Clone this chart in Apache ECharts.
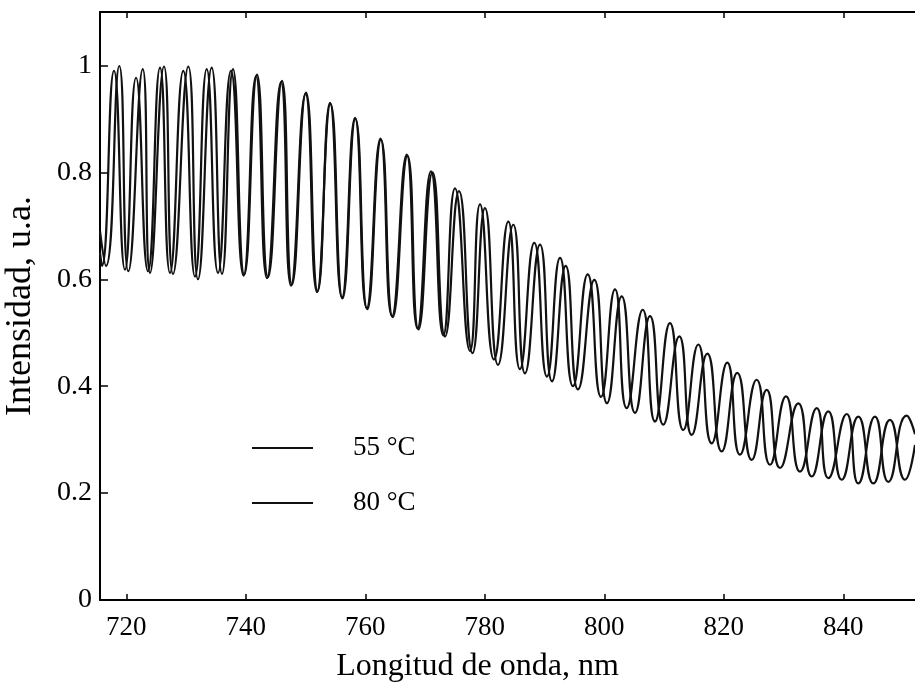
<!DOCTYPE html>
<html>
<head>
<meta charset="utf-8">
<script src="https://cdn.jsdelivr.net/npm/echarts@6/dist/echarts.min.js"></script>
<style>
html,body{margin:0;padding:0;background:#fff;}
#chart{width:915px;height:689px;}
</style>
</head>
<body>
<div id="chart"></div>
<script>
// Wavelength (nm) and intensity (a.u.) read at peaks/valleys of each trace
const wl55 = [715.60,716.60,718.83,720.34,722.75,723.97,726.31,727.82,730.38,732.00,734.29,736.02,737.86,739.75,741.88,743.72,746.06,747.73,750.08,752.03,754.09,756.10,758.28,760.24,762.54,764.47,766.93,768.74,770.99,773.06,775.01,777.52,779.20,781.54,783.93,785.89,788.28,790.41,792.59,794.76,797.22,799.45,801.79,803.75,806.43,808.48,810.99,813.22,815.73,817.97,820.58,822.71,825.50,827.73,830.41,832.75,835.55,837.49,840.57,842.51,845.30,847.53,850.60,852.00];
const int55 = [0.69,0.625,0.999,0.615,0.993,0.612,0.998,0.610,0.998,0.600,0.996,0.610,0.993,0.609,0.983,0.604,0.971,0.590,0.949,0.578,0.930,0.566,0.902,0.546,0.863,0.531,0.833,0.508,0.802,0.495,0.770,0.466,0.740,0.450,0.708,0.432,0.668,0.418,0.640,0.400,0.609,0.380,0.581,0.359,0.543,0.334,0.518,0.318,0.478,0.293,0.444,0.272,0.412,0.253,0.381,0.240,0.359,0.228,0.348,0.218,0.343,0.221,0.345,0.31];

const wl80 = [715.60,715.93,717.94,719.78,721.63,723.63,725.64,727.32,729.54,731.50,733.46,735.35,737.52,739.62,741.71,743.55,745.89,747.57,749.99,751.92,754.18,756.19,758.36,760.34,762.63,764.60,767.06,768.90,771.25,773.34,775.68,777.94,780.03,782.21,784.77,786.73,789.24,791.25,793.54,795.60,798.33,800.45,802.91,805.14,807.65,809.87,812.55,814.63,817.24,819.65,822.26,824.67,827.18,829.41,832.47,834.71,837.49,839.73,842.51,845.02,847.81,850.32,852.00];
const int80 = [0.65,0.625,0.990,0.618,0.977,0.615,0.996,0.612,0.990,0.605,0.993,0.612,0.990,0.607,0.980,0.602,0.969,0.588,0.947,0.576,0.928,0.564,0.900,0.544,0.861,0.529,0.831,0.506,0.800,0.493,0.765,0.462,0.733,0.440,0.702,0.424,0.665,0.409,0.625,0.394,0.599,0.368,0.568,0.350,0.531,0.328,0.493,0.309,0.461,0.278,0.425,0.262,0.393,0.247,0.368,0.231,0.353,0.225,0.343,0.218,0.337,0.225,0.29];

const xTicks = [720,740,760,780,800,820,840];
const yTicks = [0,0.2,0.4,0.6,0.8,1];
const seriesNames = ['55 \u00B0C','80 \u00B0C'];
const xTitle = 'Longitud de onda, nm';
const yTitle = 'Intensidad, u.a.';

const XMIN = 715.6, XMAX = 852.0, YMIN = 0, YMAX = 1.1;
const FONT = '"Liberation Serif","Times New Roman",serif';

function pairs(xs, ys){ return xs.map((x,i)=>[x, ys[i]]); }

const chart = echarts.init(document.getElementById('chart'), null, {renderer:'canvas'});
const lineAx = {lineStyle:{color:'#000', width:2}};
chart.setOption({
  animation:false,
  backgroundColor:'#fff',
  grid:{left:100, right:0, top:12, bottom:89, containLabel:false, outerBoundsMode:'none'},
  legend:{
    data:seriesNames, orient:'vertical', left:247, top:429,
    icon:'rect', itemWidth:61, itemHeight:2, itemGap:27,
    textStyle:{fontFamily:FONT, fontSize:27, lineHeight:28, color:'#000', padding:[0,0,0,35]}
  },
  xAxis:[
    {type:'value', position:'bottom', min:XMIN, max:XMAX,
     axisLine:lineAx,
     axisTick:{show:true, inside:true, length:6, customValues:xTicks, lineStyle:{color:'#000', width:1.5}},
     axisLabel:{customValues:xTicks, color:'#000', fontFamily:FONT, fontSize:27, margin:14},
     splitLine:{show:false},
     name:xTitle, nameLocation:'middle', nameGap:51,
     nameTextStyle:{fontFamily:FONT, fontSize:32, color:'#000', padding:[0,60,0,0]}},
    {type:'value', position:'top', min:XMIN, max:XMAX,
     axisLine:lineAx,
     axisTick:{show:true, inside:true, length:6, customValues:xTicks, lineStyle:{color:'#000', width:1.5}},
     axisLabel:{show:false}, splitLine:{show:false}}
  ],
  yAxis:[
    {type:'value', position:'left', min:YMIN, max:YMAX,
     axisLine:{show:true, lineStyle:{color:'#000', width:2}},
     axisTick:{show:true, inside:true, length:8, customValues:yTicks, lineStyle:{color:'#000', width:1.5}},
     axisLabel:{customValues:yTicks, color:'#000', fontFamily:FONT, fontSize:28, margin:8,
       formatter:(v)=>String(+v.toFixed(1))},
     splitLine:{show:false},
     name:yTitle, nameLocation:'middle', nameGap:61, nameRotate:90,
     nameTextStyle:{fontFamily:FONT, fontSize:36, color:'#000'}}
  ],
  series:[
    {name:seriesNames[0], type:'line', data:pairs(wl55,int55), symbol:'none', smooth:0.55,
     lineStyle:{color:'#111', width:2.2}, itemStyle:{color:'#111'}},
    {name:seriesNames[1], type:'line', data:pairs(wl80,int80), symbol:'none', smooth:0.55,
     lineStyle:{color:'#111', width:2.2}, itemStyle:{color:'#111'}}
  ]
});
</script>
</body>
</html>
